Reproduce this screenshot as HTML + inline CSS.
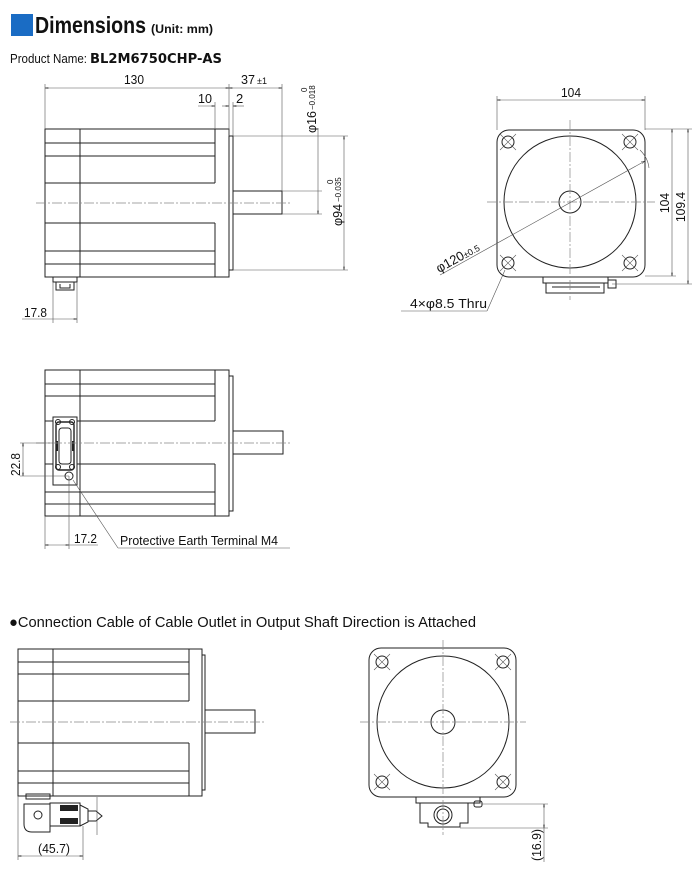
<!DOCTYPE html>
<html><head><meta charset="utf-8"><style>
html,body{margin:0;padding:0;background:#fff;width:698px;height:892px;overflow:hidden}
svg{display:block}
text{font-family:"Liberation Sans",sans-serif;fill:#111}
.l{stroke:#222;stroke-width:1;fill:none}
.t{stroke:#555;stroke-width:0.6;fill:none}
.c{stroke:#888;stroke-width:0.7;fill:none;stroke-dasharray:10 2 2 2}
</style></head><body>
<svg width="698" height="892" viewBox="0 0 698 892" xmlns="http://www.w3.org/2000/svg">
<defs>
<marker id="a" viewBox="0 0 10 6" refX="10" refY="3" markerWidth="7" markerHeight="4" orient="auto-start-reverse"><path d="M0,0L10,3L0,6" fill="none" stroke="#333" stroke-width="1"/></marker>
</defs>
<!-- header -->
<rect x="11" y="14" width="22" height="22" fill="#1a6cc4"/>
<text x="35" y="33" font-size="23" font-weight="bold" textLength="111" lengthAdjust="spacingAndGlyphs">Dimensions</text>
<text x="151" y="33" font-size="12" font-weight="bold" textLength="62" lengthAdjust="spacingAndGlyphs">(Unit: mm)</text>
<text x="10" y="63" font-size="13" textLength="77" lengthAdjust="spacingAndGlyphs">Product Name:</text>
<text x="90" y="63" font-size="13" font-weight="bold" textLength="132" lengthAdjust="spacingAndGlyphs" style="font-family:'DejaVu Sans','Liberation Sans',sans-serif">BL2M6750CHP-AS</text>

<!-- VIEW 1 -->
<g class="l">
<rect x="45" y="129" width="184" height="148"/>
<line x1="80" y1="129" x2="80" y2="277"/>
<line x1="215" y1="129" x2="215" y2="183"/><line x1="215" y1="223" x2="215" y2="277"/>
<line x1="45" y1="143" x2="215" y2="143"/><line x1="45" y1="156" x2="215" y2="156"/><line x1="45" y1="183" x2="215" y2="183"/>
<line x1="45" y1="223" x2="215" y2="223"/><line x1="45" y1="251" x2="215" y2="251"/><line x1="45" y1="264" x2="215" y2="264"/>
<rect x="229" y="136" width="4" height="134"/>
<rect x="233" y="191" width="49" height="23"/>
<rect x="53" y="277" width="24" height="5"/>
<path d="M56,282v8h18v-8M60,284v4h10v-4"/>
</g>
<line class="c" x1="36" y1="203" x2="291" y2="203"/>
<g class="t">
<line x1="45" y1="84" x2="45" y2="129"/><line x1="229" y1="84" x2="229" y2="136"/><line x1="282" y1="84" x2="282" y2="191"/>
<line x1="45" y1="88" x2="229" y2="88" marker-start="url(#a)" marker-end="url(#a)"/>
<line x1="229" y1="88" x2="282" y2="88" marker-start="url(#a)" marker-end="url(#a)"/>
<line x1="215" y1="102" x2="215" y2="129"/><line x1="233" y1="102" x2="233" y2="136"/>
<line x1="198" y1="106" x2="215" y2="106" marker-end="url(#a)"/>
<line x1="222" y1="106" x2="229" y2="106" marker-end="url(#a)"/><line x1="233" y1="106" x2="244" y2="106" marker-start="url(#a)"/>
<line x1="282" y1="191" x2="322" y2="191"/><line x1="282" y1="214" x2="322" y2="214"/>
<line x1="318" y1="130" x2="318" y2="214" marker-end="url(#a)"/>
<line x1="233" y1="136" x2="348" y2="136"/><line x1="233" y1="270" x2="348" y2="270"/>
<line x1="344" y1="136" x2="344" y2="270" marker-start="url(#a)" marker-end="url(#a)"/>
<line x1="53" y1="282" x2="53" y2="323"/><line x1="77" y1="282" x2="77" y2="323"/>
<line x1="22" y1="319" x2="77" y2="319" marker-end="url(#a)"/>
</g>
<text x="124" y="84" font-size="13" textLength="20" lengthAdjust="spacingAndGlyphs">130</text>
<text x="241" y="84" font-size="13" textLength="14" lengthAdjust="spacingAndGlyphs">37</text><text x="257" y="84" font-size="9">±1</text>
<text x="198" y="103" font-size="13" textLength="14" lengthAdjust="spacingAndGlyphs">10</text>
<text x="236" y="103" font-size="13">2</text>
<text transform="translate(316,133) rotate(-90)" font-size="13" textLength="22" lengthAdjust="spacingAndGlyphs">φ16</text>
<text transform="translate(315,110) rotate(-90)" font-size="8">−0.018</text>
<text transform="translate(307,92) rotate(-90)" font-size="8">0</text>
<text transform="translate(342,226) rotate(-90)" font-size="13" textLength="22" lengthAdjust="spacingAndGlyphs">φ94</text>
<text transform="translate(341,202) rotate(-90)" font-size="8">−0.035</text>
<text transform="translate(333,184) rotate(-90)" font-size="8">0</text>
<text x="24" y="317" font-size="13" textLength="23" lengthAdjust="spacingAndGlyphs">17.8</text>

<!-- VIEW 2 -->
<g class="l">
<rect x="497" y="130" width="148" height="147" rx="12"/>
<circle cx="570" cy="202" r="66"/>
<circle cx="570" cy="202" r="11"/>
<circle cx="508" cy="142" r="6"/><circle cx="630" cy="142" r="6"/><circle cx="508" cy="263" r="6"/><circle cx="630" cy="263" r="6"/>
<rect x="543" y="277" width="65" height="6"/>
<path d="M546,283v10h58v-10M552,287h48M608,280h8v8h-8z"/>
</g>
<g class="t">
<path d="M500,134l16,16M516,134l-16,16M622,134l16,16M638,134l-16,16M500,255l16,16M516,255l-16,16M622,255l16,16M638,255l-16,16"/>
<line x1="570" y1="120" x2="570" y2="300" class="c"/>
<line x1="487" y1="202" x2="655" y2="202" class="c"/>
<line x1="497" y1="96" x2="497" y2="130"/><line x1="645" y1="96" x2="645" y2="130"/>
<line x1="497" y1="100" x2="645" y2="100" marker-start="url(#a)" marker-end="url(#a)"/>
<line x1="645" y1="129" x2="692" y2="129"/><line x1="645" y1="276" x2="676" y2="276"/><line x1="612" y1="284" x2="692" y2="284"/>
<line x1="672" y1="129" x2="672" y2="276" marker-start="url(#a)" marker-end="url(#a)"/>
<line x1="688" y1="129" x2="688" y2="284" marker-start="url(#a)" marker-end="url(#a)"/>
<line x1="440" y1="275" x2="645" y2="161" marker-end="url(#a)"/>
<path d="M640,150q8,8 9,18"/>
<line x1="401" y1="311" x2="487" y2="311"/><line x1="487" y1="311" x2="505" y2="270"/>
</g>
<text x="561" y="97" font-size="13" textLength="20" lengthAdjust="spacingAndGlyphs">104</text>
<text transform="translate(669,213) rotate(-90)" font-size="13" textLength="20" lengthAdjust="spacingAndGlyphs">104</text>
<text transform="translate(685,222) rotate(-90)" font-size="13" textLength="30" lengthAdjust="spacingAndGlyphs">109.4</text>
<text transform="translate(439,273) rotate(-29)" font-size="13">φ120<tspan font-size="9">±0.5</tspan></text>
<text x="410" y="308" font-size="13" textLength="77" lengthAdjust="spacingAndGlyphs">4×φ8.5 Thru</text>

<!-- VIEW 3 -->
<g class="l">
<rect x="45" y="370" width="184" height="146"/>
<line x1="80" y1="370" x2="80" y2="516"/>
<line x1="215" y1="370" x2="215" y2="421"/><line x1="215" y1="464" x2="215" y2="516"/>
<line x1="45" y1="384" x2="215" y2="384"/><line x1="45" y1="396" x2="215" y2="396"/><line x1="45" y1="421" x2="215" y2="421"/>
<line x1="45" y1="464" x2="215" y2="464"/><line x1="45" y1="492" x2="215" y2="492"/><line x1="45" y1="504" x2="215" y2="504"/>
<rect x="229" y="376" width="4" height="135"/>
<rect x="233" y="431" width="50" height="23"/>
<rect x="53" y="417" width="24" height="68" fill="#fff"/>
<rect x="56" y="422" width="18" height="48" rx="3" stroke-width="1.4"/>
<rect x="59" y="428" width="12" height="36" rx="3"/>
<circle cx="58" cy="422" r="2.5"/><circle cx="72" cy="422" r="2.5"/><circle cx="58" cy="467" r="2.5"/><circle cx="72" cy="467" r="2.5"/>
<circle cx="69" cy="476" r="4"/>
</g>
<path d="M56,441h2v10h-2zM72,441h2v10h-2z" fill="#222"/>
<line class="c" x1="36" y1="443" x2="292" y2="443"/>
<g class="t">
<line x1="20" y1="443" x2="53" y2="443"/><line x1="20" y1="476" x2="69" y2="476"/>
<line x1="23" y1="443" x2="23" y2="476" marker-start="url(#a)" marker-end="url(#a)"/>
<line x1="45" y1="516" x2="45" y2="549"/><line x1="69" y1="476" x2="69" y2="549"/>
<line x1="45" y1="545" x2="69" y2="545" marker-start="url(#a)" marker-end="url(#a)"/>
<line x1="69" y1="545" x2="98" y2="545"/>
<line x1="73" y1="480" x2="118" y2="548"/><line x1="118" y1="548" x2="290" y2="548"/>
</g>
<text transform="translate(20,476) rotate(-90)" font-size="13" textLength="23" lengthAdjust="spacingAndGlyphs">22.8</text>
<text x="74" y="543" font-size="13" textLength="23" lengthAdjust="spacingAndGlyphs">17.2</text>
<text x="120" y="545" font-size="13" textLength="158" lengthAdjust="spacingAndGlyphs">Protective Earth Terminal M4</text>

<!-- section -->
<text x="9" y="627" font-size="15" textLength="467" lengthAdjust="spacingAndGlyphs">●Connection Cable of Cable Outlet in Output Shaft Direction is Attached</text>

<!-- VIEW 4 -->
<g class="l">
<rect x="18" y="649" width="184" height="147"/>
<line x1="53" y1="649" x2="53" y2="796"/>
<line x1="189" y1="649" x2="189" y2="701"/><line x1="189" y1="743" x2="189" y2="796"/>
<line x1="18" y1="662" x2="189" y2="662"/><line x1="18" y1="674" x2="189" y2="674"/><line x1="18" y1="701" x2="189" y2="701"/>
<line x1="18" y1="743" x2="189" y2="743"/><line x1="18" y1="771" x2="189" y2="771"/><line x1="18" y1="783" x2="189" y2="783"/>
<rect x="202" y="655" width="3" height="135"/>
<rect x="205" y="710" width="50" height="23"/>
<rect x="26" y="794" width="24" height="5"/>
<path d="M24,804h26v28h-18q-8,0-8-8z"/>
<circle cx="38" cy="815" r="4"/>
<rect x="50" y="803" width="30" height="23"/>
<path d="M80,805l8,4v13l-8,4"/>
<path d="M88,811h8l6,5l-6,5h-8"/>
</g>
<path d="M60,805h18v6h-18zM60,818h18v6h-18z" fill="#222"/>
<line class="c" x1="10" y1="722" x2="264" y2="722"/>
<g class="t">
<line x1="18" y1="796" x2="18" y2="860"/><line x1="83" y1="826" x2="83" y2="860"/>
<line x1="18" y1="856" x2="83" y2="856" marker-start="url(#a)" marker-end="url(#a)"/>
<line x1="97" y1="797" x2="97" y2="835"/>
</g>
<text x="38" y="853" font-size="13" textLength="32" lengthAdjust="spacingAndGlyphs">(45.7)</text>

<!-- VIEW 5 -->
<g class="l">
<rect x="369" y="648" width="147" height="149" rx="12"/>
<circle cx="443" cy="722" r="66"/>
<circle cx="443" cy="722" r="12"/>
<circle cx="382" cy="662" r="6"/><circle cx="503" cy="662" r="6"/><circle cx="382" cy="782" r="6"/><circle cx="503" cy="782" r="6"/>
<rect x="416" y="797" width="64" height="6"/>
<path d="M420,803v20h8v4h32v-4h8v-20"/>
<circle cx="443" cy="815" r="9"/><circle cx="443" cy="815" r="6"/>
<rect x="474" y="801" width="8" height="6" rx="2"/>
</g>
<g class="t">
<path d="M374,654l16,16M390,654l-16,16M495,654l16,16M511,654l-16,16M374,774l16,16M390,774l-16,16M495,774l16,16M511,774l-16,16"/>
<line x1="443" y1="640" x2="443" y2="835" class="c"/>
<line x1="360" y1="722" x2="526" y2="722" class="c"/>
<line x1="482" y1="804" x2="548" y2="804"/><line x1="460" y1="828" x2="548" y2="828"/>
<line x1="544" y1="804" x2="544" y2="828" marker-start="url(#a)" marker-end="url(#a)"/>
<line x1="544" y1="828" x2="544" y2="862"/>
</g>
<text transform="translate(541,861) rotate(-90)" font-size="13" textLength="32" lengthAdjust="spacingAndGlyphs">(16.9)</text>
</svg>
</body></html>
